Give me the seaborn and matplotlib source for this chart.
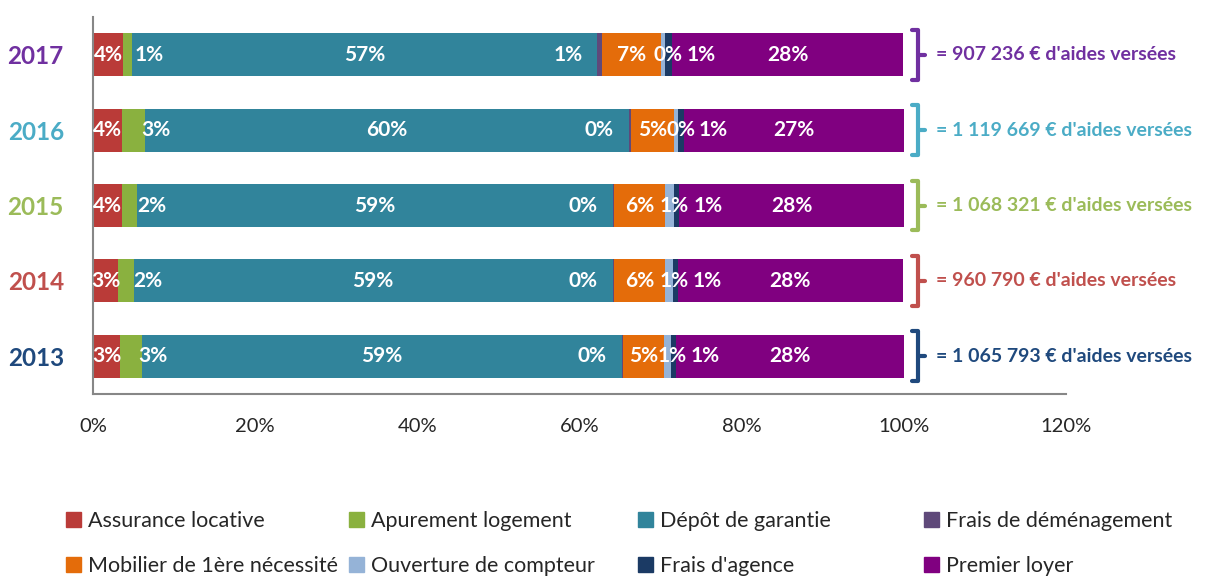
import seaborn as sns
import matplotlib.pyplot as plt
import matplotlib.patches as mpatches
import numpy as np
import pandas as pd

# data (share of aid in %, per year)
years = ['2017', '2016', '2015', '2014', '2013']
categories = ['Assurance locative', 'Apurement logement', 'Dépôt de garantie',
              'Frais de déménagement', 'Mobilier de 1ère nécessité',
              'Ouverture de compteur', "Frais d'agence", 'Premier loyer']
assurance = [3.7, 3.6, 3.6, 3.1, 3.3]
apurement = [1.1, 2.8, 1.8, 1.9, 2.7]
depot = [57.3, 59.7, 58.7, 59.1, 59.3]
demenagement = [0.7, 0.2, 0.2, 0.2, 0.1]
mobilier = [7.3, 5.4, 6.2, 6.3, 5.0]
ouverture = [0.45, 0.45, 1.1, 0.9, 0.9]
agence = [0.9, 0.7, 0.7, 0.6, 0.6]
premier_loyer = [28.4, 27.15, 27.7, 27.8, 28.1]
totals = ['= 907 236 € d\'aides versées', '= 1 119 669 € d\'aides versées',
          '= 1 068 321 € d\'aides versées', '= 960 790 € d\'aides versées',
          '= 1 065 793 € d\'aides versées']

colors = ['#BA3B38', '#8AB13F', '#31849B', '#5F497A', '#E46C0A', '#95B3D7', '#1B3A64', '#800080']
year_colors = ['#7030A0', '#4BACC6', '#9BBB59', '#C0504D', '#1F497D']
# label shift (px) for the thin segments, like in the original
label_shift = [0, 22, 0, -31, 0, 5, 32, 0]

series = [assurance, apurement, depot, demenagement, mobilier, ouverture, agence, premier_loyer]
df = pd.DataFrame(dict(zip(categories, series)), index=years)
cum = df.cumsum(axis=1)

sns.set_style('white')
plt.rcParams['font.family'] = ['Lato', 'DejaVu Sans']

fig = plt.figure(figsize=(12.06, 5.81), dpi=100)
ax = fig.add_axes([93 / 1206, 1 - 394 / 581, (1066 - 93) / 1206, (394 - 17) / 581])

# stacked bars: draw cumulative totals from the last series back to the first
for i in reversed(range(len(categories))):
    sns.barplot(x=cum[categories[i]].values, y=years, order=years, orient='h',
                color=colors[i], width=0.57, ax=ax, saturation=1, linewidth=0)

# value labels
px = 72 / fig.dpi
for i, cat in enumerate(categories):
    for j, yr in enumerate(years):
        v = df.loc[yr, cat]
        xc = cum.loc[yr, cat] - v / 2
        ax.annotate(f'{round(v):.0f}%', (xc, j), xytext=(label_shift[i] * px, 0),
                    textcoords='offset points', ha='center', va='center',
                    color='white', fontsize=15, fontweight='bold')

# brackets and totals on the right
for j, yr in enumerate(years):
    c = year_colors[j]
    top, bot = j - 0.33, j + 0.33
    ax.plot([101.0, 101.8, 101.8, 101.0], [top, top, bot, bot], color=c, lw=3,
            clip_on=False, solid_joinstyle='round', solid_capstyle='round')
    ax.plot([101.8, 102.6], [j, j], color=c, lw=3, clip_on=False, solid_capstyle='round')
    ax.text(104.0, j, totals[j], color=c, fontsize=14, fontweight='bold', va='center', ha='left')

ax.set_xlim(0, 120)
ax.set_ylim(4.5, -0.5)
ax.set_xticks(np.arange(0, 121, 20))
ax.set_xticklabels([f'{t}%' for t in range(0, 121, 20)], fontsize=14.5)
ax.tick_params(axis='x', length=0, pad=17)
ax.set_yticks(range(len(years)))
ax.set_yticklabels(years, fontsize=17.5, fontweight='bold')
for lab, c in zip(ax.get_yticklabels(), year_colors):
    lab.set_color(c)
ax.tick_params(axis='y', length=0, pad=21)
ax.set_xlabel('')
ax.set_ylabel('')
sns.despine(ax=ax, top=True, right=True)
for s in ['left', 'bottom']:
    ax.spines[s].set_color('#878787')
    ax.spines[s].set_linewidth(1.5)

# legend: four columns of two entries, equal spacing like Excel
handles = [mpatches.Patch(color=c, label=l) for c, l in zip(colors, categories)]
col_x = [66, 349, 638, 924]
for k in range(4):
    fig.legend(handles=[handles[k], handles[k + 4]], loc='upper left',
               bbox_to_anchor=(col_x[k] / 1206, 1 - 511 / 581), frameon=False,
               fontsize=15.5, handlelength=0.7, handleheight=0.7, handletextpad=0.3,
               labelspacing=1.15, borderaxespad=0, borderpad=0)

fig.savefig('out.png', dpi=100)
